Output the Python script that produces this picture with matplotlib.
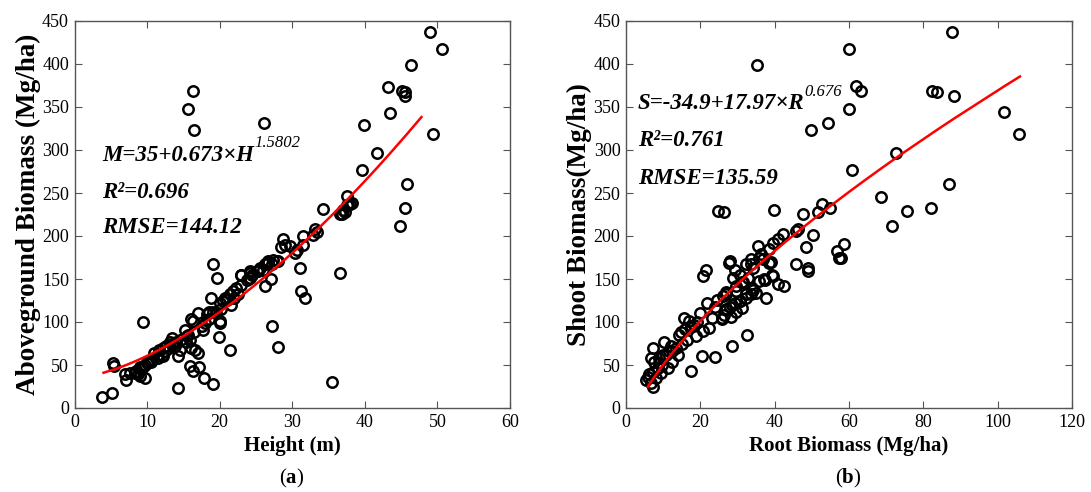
import matplotlib
matplotlib.use("Agg")
import matplotlib.pyplot as plt
import numpy as np

plt.rcParams['font.family'] = ['Liberation Serif', 'DejaVu Serif']
plt.rcParams['mathtext.fontset'] = 'custom'
plt.rcParams['mathtext.rm'] = 'Liberation Serif'
plt.rcParams['mathtext.bf'] = 'Liberation Serif:bold'

# ---------------- panel (a): Height vs Aboveground biomass ----------------
height_m = [
    49.0, 50.6, 46.3, 43.2, 45.1, 45.5, 45.5, 43.4, 39.9, 49.4, 41.7, 39.6, 45.8, 45.5, 44.8,
    16.3, 15.7, 16.5, 26.1,
    34.3, 37.5, 36.8, 38.2, 36.6, 37.2, 37.5, 38.0, 37.7, 37.0,
    33.1, 33.4, 32.9, 31.5, 31.5, 28.7, 29.0, 28.5, 29.7, 30.4, 30.6, 31.1, 36.6,
    26.5, 27.2, 26.0, 26.7, 27.9, 25.3, 24.2, 23.0, 24.2, 19.1, 19.6,
    31.2, 31.7, 27.1, 26.3, 27.2, 28.1, 35.5,
    18.8, 20.0, 20.7, 21.4, 20.0, 20.1, 19.9, 21.4, 9.4,
    17.0, 17.7, 16.1, 16.3, 18.5, 19.1, 18.2,
    15.2, 15.6, 15.4, 15.9, 16.1, 16.6, 17.0,
    15.9, 17.2, 16.3, 17.9, 19.1, 14.3,
    14.3, 14.5, 14.0, 13.1, 13.5, 12.6, 12.2, 11.7,
    11.0, 11.3, 10.6, 10.1, 9.7, 9.0, 9.2, 8.5, 8.3,
    9.0, 9.7, 8.7, 7.1, 6.9, 7.6, 5.3, 5.5, 3.8, 5.2,
    21.0, 20.5, 21.9, 22.3, 23.0, 23.7, 24.4, 25.1, 25.6, 26.2, 26.7, 27.4, 28.1, 23.0, 24.2,
    11.5, 12.0, 12.5, 13.0, 13.5, 14.0, 10.5, 10.0, 9.5, 9.0, 12.2, 13.8, 14.8, 15.5, 16.5,
    17.5, 18.0, 18.5, 19.5, 20.2, 21.5, 22.0, 22.5,
]
biomass_agb = [
    437, 418, 399, 373, 369, 367, 363, 343, 329, 319, 297, 277, 261, 233, 212,
    369, 348, 323, 331,
    231, 236, 225, 238, 226, 228, 246, 237, 236, 230,
    208, 205, 201, 200, 190, 196, 190, 187, 188, 180, 184, 163, 157,
    169, 167, 161, 171, 171, 159, 157, 155, 151, 167, 151,
    136, 128, 150, 142, 95, 71, 30,
    128, 122, 128, 132, 101, 99, 83, 67, 100,
    110, 91, 103, 101, 112, 112, 109,
    91, 85, 77, 79, 70, 68, 64,
    49, 48, 43, 35, 28, 23,
    60, 68, 76, 77, 81, 72, 70, 68,
    64, 60, 56, 54, 50, 48, 45, 43, 41,
    37, 35, 39, 33, 39, 41, 52, 49, 13, 18,
    126, 124, 136, 139, 143, 149, 155, 159, 163, 167, 169, 172, 171, 155, 159,
    58, 62, 66, 70, 74, 77, 54, 52, 48, 46, 60, 72, 80, 84, 88,
    95, 99, 104, 110, 115, 120, 128, 132,
]

# ---------------- panel (b): Root biomass vs Shoot biomass ----------------
root_biomass = [
    87.8, 59.9, 62.0, 63.2, 60.1, 82.2, 83.7, 88.2, 101.8, 105.7, 60.8, 72.6, 86.9, 68.7, 75.7,
    82.1, 71.5, 58.7, 57.8,
    35.3, 49.9, 54.4, 24.7, 26.3, 39.7, 47.5, 51.6, 52.7, 54.9,
    46.2, 50.2, 48.4, 45.7, 42.2, 40.8, 39.5, 56.9, 57.4, 45.8, 48.9, 49.1,
    38.6, 36.4, 35.5, 36.8, 39.1,
    27.9, 29.2, 30.6, 32.4, 33.7, 34.1, 32.8, 31.5, 29.7, 28.8,
    37.3, 39.5, 40.8, 42.6, 37.7,
    35.0, 33.7, 32.4, 30.6, 29.2, 27.9, 27.0, 26.5, 28.3, 29.7, 31.1, 34.1, 27.0, 26.1, 25.7,
    21.4, 20.7, 27.7, 32.6, 28.4, 23.9, 20.4, 17.4,
    21.9, 19.8, 15.6, 17.0, 18.3, 23.2, 22.3, 20.6, 18.8,
    14.3, 16.5, 15.2, 13.4, 12.5, 10.7, 8.9, 7.6, 9.8, 8.5, 7.2, 6.2, 5.4, 6.7, 7.2,
    8.0, 9.4, 11.2, 12.5, 13.9, 7.2, 10.3, 6.7,
    25.9, 26.8, 28.6, 30.8, 32.2, 33.9, 35.7, 29.5, 26.8, 24.6, 31.3, 33.5, 35.7, 38.4, 39.3, 37.1,
    16.0, 14.8, 11.5, 9.0, 6.0, 17.5, 19.0, 24.0, 12.0, 10.0,
]
shoot_biomass = [
    437, 417, 374, 369, 348, 369, 368, 363, 344, 319, 277, 297, 261, 245, 229,
    233, 212, 191, 174,
    399, 323, 331, 229, 228, 230, 226, 228, 237, 232,
    208, 201, 187, 206, 202, 196, 192, 183, 174, 168, 163, 159,
    185, 179, 188, 173, 170,
    171, 161, 155, 167, 173, 163, 151, 146, 142, 151,
    149, 153, 144, 142, 128,
    134, 132, 128, 124, 122, 118, 114, 108, 106, 112, 116, 137, 135, 130, 104,
    161, 154, 169, 85, 72, 59, 60, 43,
    122, 111, 105, 101, 97, 105, 93, 89, 84,
    85, 79, 74, 70, 66, 62, 58, 54, 50, 46, 42, 39, 33, 29, 24,
    35, 41, 46, 54, 62, 70, 77, 58,
    105, 115, 120, 124, 132, 140, 148, 136, 132, 126, 146, 167, 175, 169, 155, 150,
    92, 88, 66, 52, 36, 95, 100, 118, 72, 62,
]

# fitted models shown in the figure
fit_a = dict(a=35.0, b=0.673, c=1.5802, xmin=4.0, xmax=47.8)
fit_b = dict(a=-34.9, b=17.97, c=0.676, xmin=5.9, xmax=106.0)

W, H = 1091, 492
fig = plt.figure(figsize=(W / 100, H / 100), dpi=100)
ax1 = fig.add_axes([74.5 / W, (H - 408) / H, (510 - 74.5) / W, (408 - 21) / H])
ax2 = fig.add_axes([626 / W, (H - 408) / H, (1072 - 626) / W, (408 - 21) / H])

spine_col = '#555555'

def style(ax, xmax, xstep):
    ax.set_xlim(0, xmax)
    ax.set_ylim(0, 450)
    ax.set_xticks(np.arange(0, xmax + 1, xstep))
    ax.set_yticks(np.arange(0, 451, 50))
    ax.tick_params(direction='in', top=True, right=True, length=5, width=0.8,
                   color=spine_col, labelsize=13, pad=4)
    for s in ax.spines.values():
        s.set_color(spine_col)
        s.set_linewidth(1.0)

def scatter(ax, x, y):
    ax.plot(x, y, linestyle='none', marker='o', markersize=7.5,
            markerfacecolor='none', markeredgecolor='black', markeredgewidth=1.8,
            clip_on=False, zorder=3)

EQ = dict(fontsize=16.5, fontweight='bold', fontstyle='italic', va='center', ha='left')

# panel a
scatter(ax1, height_m, biomass_agb)
xa = np.array(sorted(h for h in height_m if fit_a['xmin'] <= h <= fit_a['xmax']))
xa = np.concatenate([[fit_a['xmin']], xa, [fit_a['xmax']]])
ax1.plot(xa, fit_a['a'] + fit_a['b'] * xa ** fit_a['c'], color='#ff0000', lw=1.8, zorder=4)
style(ax1, 60, 10)
ax1.set_xlabel('Height (m)', fontsize=15, fontweight='bold', labelpad=4)
ax1.set_ylabel('Aboveground Biomass (Mg/ha)', fontsize=19.5, fontweight='bold', labelpad=1)

t1 = ax1.text(3.8, 294, 'M=35+0.673×H', **EQ)
ax1.annotate('1.5802', xy=(1.0, 0.68), xycoords=t1, fontsize=12, fontstyle='italic',
             va='bottom', ha='left')
ax1.text(3.8, 251, 'R²=0.696', **EQ)
ax1.text(3.8, 210, 'RMSE=144.12', **EQ)

# panel b
scatter(ax2, root_biomass, shoot_biomass)
xb = np.array(sorted(r for r in root_biomass if fit_b['xmin'] <= r <= fit_b['xmax']))
xb = np.concatenate([[fit_b['xmin']], xb, [fit_b['xmax']]])
ax2.plot(xb, fit_b['a'] + fit_b['b'] * xb ** fit_b['c'], color='#ff0000', lw=1.8, zorder=4)
style(ax2, 120, 20)
ax2.set_xlabel('Root Biomass (Mg/ha)', fontsize=15, fontweight='bold', labelpad=4)
ax2.set_ylabel('Shoot Biomass(Mg/ha)', fontsize=19.5, fontweight='bold', labelpad=1)

t2 = ax2.text(3.2, 354, 'S=-34.9+17.97×R', **EQ)
ax2.annotate('0.676', xy=(1.0, 0.68), xycoords=t2, fontsize=12, fontstyle='italic',
             va='bottom', ha='left')
ax2.text(3.2, 311, 'R²=0.761', **EQ)
ax2.text(3.2, 267, 'RMSE=135.59', **EQ)

# panel letters
fig.text(292 / W, 1 - 478 / H, r'($\mathbf{a}$)', fontsize=15, ha='center', va='center')
fig.text(848 / W, 1 - 478 / H, r'($\mathbf{b}$)', fontsize=15, ha='center', va='center')

fig.savefig('out.png', dpi=100)
